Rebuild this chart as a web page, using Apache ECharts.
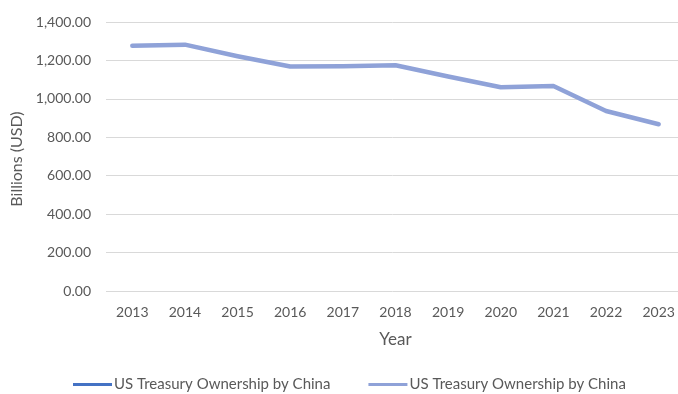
<!DOCTYPE html>
<html><head><meta charset="utf-8">
<script src="https://cdn.jsdelivr.net/npm/echarts@6/dist/echarts.min.js"></script>
<style>html,body{margin:0;padding:0;background:#fff}#c{width:678px;height:394px}</style>
</head><body><div id="c"></div>
<script>
const years = ['2013','2014','2015','2016','2017','2018','2019','2020','2021','2022','2023'];
const holdings = [1277, 1282, 1222, 1168, 1170, 1175, 1116, 1060, 1067, 937, 868];
const seriesLabel = 'US Treasury Ownership by China';
const yAxisTitle = 'Billions (USD)';
const xAxisTitle = 'Year';

const chart = echarts.init(document.getElementById('c'));
const txt = '#595959';
chart.setOption({
  animation: false,
  textStyle: { fontFamily: 'Lato' },
  grid: { left: 106, top: 22, width: 579, height: 269, containLabel: false, outerBoundsMode: 'none' },
  legend: {
    left: 73, top: 377, padding: 0,
    itemWidth: 39, itemHeight: 3, itemGap: 38,
    icon: 'rect',
    formatter: () => seriesLabel,
    textStyle: { color: txt, fontSize: 15, fontFamily: 'Lato', padding: [0,0,0,-3] },
    data: ['s1', 's2']
  },
  xAxis: {
    type: 'category', data: years, boundaryGap: true,
    name: xAxisTitle, nameLocation: 'middle', nameGap: 40,
    nameTextStyle: { color: txt, fontSize: 17, fontFamily: 'Lato' },
    axisLine: { show: false }, axisTick: { show: false },
    axisLabel: { color: txt, fontSize: 14, margin: 14 }
  },
  yAxis: {
    type: 'value', min: 0, max: 1400, interval: 200,
    name: yAxisTitle, nameLocation: 'middle', nameGap: 78,
    nameTextStyle: { color: txt, fontSize: 16, fontFamily: 'Lato', padding: [0,0,0,-5] },
    axisLabel: { color: txt, fontSize: 14, margin: 15,
      formatter: v => v.toLocaleString('en-US', {minimumFractionDigits: 2, maximumFractionDigits: 2}) },
    splitLine: { lineStyle: { color: '#d9d9d9', width: 1 } }
  },
  series: [
    { name: 's1', type: 'line', data: holdings, showSymbol: false, z: 1,
      lineStyle: { color: '#4472C4', width: 2 }, itemStyle: { color: '#4472C4' } },
    { name: 's2', type: 'line', data: holdings, showSymbol: false, z: 2,
      lineStyle: { color: '#8FA2D8', width: 4.5, cap: 'round', join: 'round' }, itemStyle: { color: '#8FA2D8' } }
  ]
});
</script></body></html>
